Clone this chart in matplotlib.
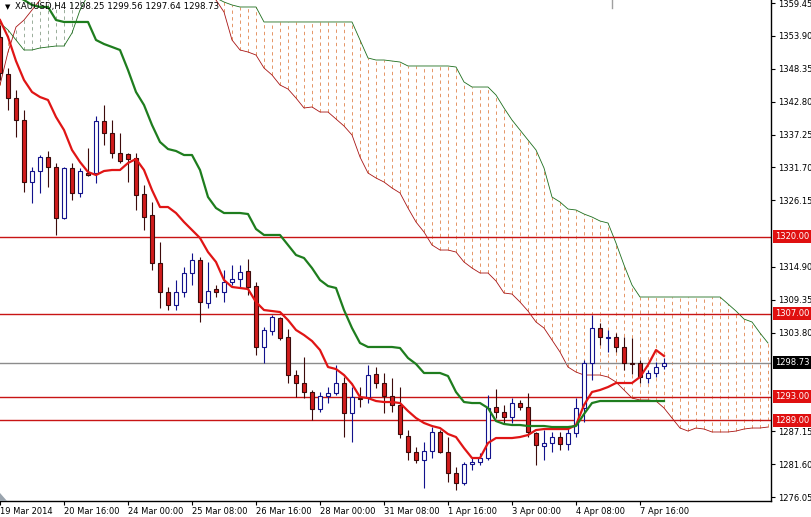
import matplotlib
matplotlib.use("Agg")
import matplotlib.pyplot as plt
import matplotlib.transforms as mtransforms
from matplotlib.patches import Rectangle, Polygon
import numpy as np

# XAUUSD H4 candles, 19 Mar 2014 08:00 onwards (one bar every 4 hours)
opens = [1353.71, 1347.47, 1343.41, 1339.70, 1329.23, 1331.09, 1333.45, 1331.77, 1323.16, 1331.60,
         1327.38, 1330.75, 1330.75, 1339.53, 1337.51, 1334.13, 1333.96, 1333.29, 1327.21, 1323.66,
         1315.56, 1310.66, 1308.47, 1310.66, 1313.87, 1316.06, 1308.81, 1311.17, 1310.66, 1312.35,
         1312.86, 1314.21, 1311.68, 1301.38, 1304.08, 1306.27, 1303.06, 1296.65, 1295.30, 1293.78,
         1290.91, 1293.11, 1293.61, 1295.30, 1290.23, 1292.76, 1292.93, 1296.82, 1295.30, 1293.11,
         1291.58, 1286.35, 1283.65, 1282.30, 1283.82, 1287.03, 1283.65, 1280.10, 1278.41, 1281.62,
         1281.96, 1282.64, 1291.25, 1290.40, 1289.56, 1291.92, 1291.25, 1286.86, 1284.66, 1285.17,
         1286.18, 1285.00, 1286.86, 1291.08, 1298.67, 1304.58, 1302.95, 1303.07, 1301.38, 1298.67,
         1298.67, 1296.14, 1296.99, 1298.25]
highs = [1355.74, 1348.48, 1344.77, 1341.39, 1331.77, 1333.79, 1334.47, 1332.44, 1331.77, 1332.44,
         1331.60, 1334.97, 1340.38, 1342.23, 1339.70, 1337.51, 1334.13, 1334.13, 1328.73, 1325.86,
         1319.10, 1311.51, 1312.69, 1314.88, 1317.25, 1316.57, 1315.73, 1311.84, 1314.38, 1315.22,
         1315.22, 1316.23, 1312.35, 1304.75, 1306.78, 1306.44, 1304.42, 1297.49, 1299.69, 1294.12,
         1293.78, 1294.62, 1298.34, 1296.31, 1294.62, 1294.62, 1298.34, 1298.00, 1296.99, 1296.14,
         1294.62, 1287.36, 1284.49, 1285.34, 1287.87, 1287.36, 1286.18, 1281.12, 1281.96, 1282.80,
         1283.48, 1293.27, 1294.28, 1291.58, 1292.76, 1292.43, 1293.61, 1287.03, 1287.36, 1287.03,
         1287.03, 1287.70, 1292.76, 1299.18, 1306.78, 1305.43, 1304.25, 1303.74, 1303.07, 1302.90,
         1299.18, 1297.49, 1298.84, 1299.56]
lows = [1346.45, 1341.39, 1336.83, 1327.54, 1325.69, 1327.38, 1328.39, 1320.29, 1323.00, 1326.19,
        1326.70, 1330.20, 1329.06, 1335.48, 1333.29, 1332.44, 1329.23, 1324.51, 1321.13, 1314.38,
        1307.96, 1307.62, 1307.62, 1309.82, 1311.84, 1305.60, 1307.96, 1309.82, 1308.97, 1311.84,
        1311.51, 1310.16, 1300.03, 1298.67, 1303.40, 1302.56, 1295.30, 1292.93, 1292.76, 1289.05,
        1290.40, 1291.92, 1293.27, 1286.18, 1285.34, 1291.24, 1291.92, 1294.45, 1290.23, 1290.40,
        1286.01, 1282.30, 1281.79, 1277.57, 1282.64, 1283.48, 1278.58, 1277.23, 1278.07, 1280.61,
        1281.45, 1282.30, 1289.39, 1288.55, 1288.55, 1290.74, 1286.18, 1281.45, 1282.30, 1283.65,
        1283.99, 1283.99, 1286.18, 1288.71, 1295.80, 1301.71, 1300.53, 1300.53, 1297.49, 1296.80,
        1295.30, 1295.30, 1296.31, 1297.64]
closes = [1347.64, 1343.41, 1339.70, 1329.23, 1331.09, 1333.45, 1331.77, 1323.16, 1331.60, 1327.38,
          1331.09, 1330.41, 1339.53, 1337.51, 1334.13, 1332.78, 1333.12, 1327.04, 1323.32, 1315.56,
          1310.66, 1308.47, 1310.66, 1313.87, 1316.06, 1308.97, 1310.83, 1310.66, 1312.35, 1312.86,
          1314.04, 1311.51, 1301.38, 1304.25, 1306.44, 1302.90, 1296.65, 1295.30, 1293.78, 1290.91,
          1293.10, 1293.61, 1295.30, 1290.23, 1292.93, 1292.59, 1296.65, 1295.30, 1293.11, 1291.58,
          1286.69, 1283.65, 1282.30, 1283.82, 1287.03, 1283.65, 1280.10, 1278.41, 1281.62, 1281.96,
          1282.64, 1291.08, 1290.40, 1289.56, 1291.92, 1291.25, 1287.03, 1284.83, 1285.17, 1286.18,
          1285.00, 1286.86, 1291.08, 1298.67, 1304.58, 1303.07, 1303.10, 1301.38, 1298.67, 1298.50,
          1296.31, 1296.99, 1298.00, 1298.73]

# Ichimoku lines
tenkan = [1356.58, 1353.71, 1349.66, 1346.45, 1344.43, 1343.58, 1343.08, 1340.21, 1338.01, 1334.64,
          1332.61, 1330.92, 1330.41, 1331.09, 1331.26, 1331.26, 1332.44, 1333.12, 1331.26, 1327.88,
          1325.01, 1325.01, 1324.00, 1322.48, 1321.13, 1319.78, 1317.41, 1315.73, 1312.69, 1311.51,
          1311.34, 1311.17, 1308.97, 1307.62, 1307.45, 1307.28, 1305.93, 1304.25, 1303.40, 1302.39,
          1300.87, 1298.00, 1297.66, 1296.65, 1295.13, 1292.93, 1292.76, 1292.26, 1292.09, 1292.09,
          1291.92, 1290.57, 1289.39, 1288.55, 1288.04, 1287.70, 1286.69, 1286.18, 1284.32, 1282.64,
          1282.64, 1285.17, 1286.01, 1286.01, 1286.01, 1286.18, 1286.52, 1287.36, 1287.53, 1287.53,
          1287.53, 1287.53, 1288.21, 1291.58, 1293.78, 1294.12, 1294.62, 1295.30, 1295.30, 1295.30,
          1296.31, 1298.34, 1300.87, 1299.86]
kijun = [1362.49, 1361.65, 1360.64, 1359.96, 1359.12, 1358.78, 1358.78, 1356.58, 1356.25, 1356.25,
         1356.25, 1356.25, 1353.21, 1352.53, 1352.03, 1351.52, 1348.14, 1344.43, 1342.23, 1338.86,
         1335.99, 1334.80, 1334.47, 1333.79, 1333.79, 1331.26, 1326.70, 1324.84, 1324.00, 1324.00,
         1324.00, 1323.83, 1321.30, 1320.29, 1320.29, 1320.29, 1318.60, 1316.91, 1316.40, 1314.71,
         1312.69, 1311.67, 1311.34, 1307.62, 1304.58, 1302.05, 1301.38, 1301.38, 1301.38, 1301.38,
         1301.21, 1299.52, 1298.51, 1296.99, 1296.99, 1296.99, 1296.48, 1293.78, 1292.09, 1291.92,
         1291.92, 1291.08, 1288.88, 1288.38, 1288.21, 1288.21, 1288.04, 1288.04, 1288.04, 1287.87,
         1287.87, 1287.87, 1288.04, 1290.06, 1291.92, 1292.26, 1292.26, 1292.26, 1292.26, 1292.26,
         1292.26, 1292.26, 1292.26, 1292.26]
span_a = ([1345.61, 1351.18, 1355.40, 1356.58, 1358.27, 1359.96] + [1361.65] * 21 +
          [1359.96, 1357.93, 1353.21, 1351.52, 1351.18, 1350.67, 1348.48, 1347.30, 1345.61, 1344.93,
           1343.41, 1341.73, 1341.90, 1341.05, 1341.05, 1339.87, 1338.69, 1337.17, 1333.45, 1330.75,
           1329.91, 1329.23, 1328.22, 1327.38, 1324.84, 1322.48, 1320.79, 1318.60, 1317.75, 1317.75,
           1317.41, 1315.73, 1314.71, 1313.87, 1313.87, 1312.52, 1310.49, 1310.32, 1308.97, 1307.45,
           1305.60, 1304.58, 1302.56, 1300.53, 1298.00, 1297.15, 1296.65, 1296.65, 1296.65, 1296.31,
           1295.47, 1294.12, 1292.76, 1292.43, 1292.43, 1292.26, 1291.08, 1289.39, 1287.70, 1287.19,
           1287.70, 1287.53, 1287.03, 1287.03, 1287.03, 1287.19, 1287.53, 1287.70, 1287.70, 1287.87])
span_b = ([1356.08, 1354.90, 1353.21, 1351.52, 1351.52, 1351.86, 1352.03, 1352.19, 1352.19, 1354.39,
           1358.27] + [1360.80] * 16 +
          [1360.30, 1359.62, 1359.12, 1358.78, 1358.78, 1358.78] + [1356.25] * 12 +
          [1353.21, 1350.17, 1349.83, 1349.83, 1349.66, 1349.49] + [1348.82] * 6 +
          [1348.65, 1346.12, 1345.27, 1345.27, 1345.27, 1343.92, 1341.73, 1339.70, 1338.01, 1336.32,
           1334.64, 1331.60, 1326.70, 1325.86, 1324.67, 1324.51, 1323.83, 1323.32, 1322.65, 1322.31,
           1318.93, 1315.22, 1311.84] + [1309.82] * 11 +
          [1308.64, 1307.45, 1306.10, 1305.60, 1303.74, 1302.05])

levels = [1320.00, 1307.00, 1293.00, 1289.00]
price_ticks = [1359.45, 1353.90, 1348.35, 1342.80, 1337.25, 1331.70, 1326.15,
               1314.90, 1309.35, 1303.80, 1287.15, 1281.60, 1276.05]
date_labels = ["19 Mar 2014", "20 Mar 16:00", "24 Mar 00:00", "25 Mar 08:00", "26 Mar 16:00",
               "28 Mar 00:00", "31 Mar 08:00", "1 Apr 16:00", "3 Apr 00:00", "4 Apr 08:00",
               "7 Apr 16:00"]

BULL_EDGE = "#12128c"
BEAR_FILL = "#d21c1c"
BEAR_EDGE = "#3c0a0a"

fig = plt.figure(figsize=(8.11, 5.17), dpi=100)
ax = fig.add_axes([0, 16 / 517, 771 / 811, 501 / 517])
ax.set_xlim(0, 771 / 8)
ax.set_ylim(1275.38, 1359.96)

# cloud: dotted vertical strokes on every bar between span A and span B
xs = np.arange(len(span_a))
a = np.array(span_a)
b = np.array(span_b)
up = a > b
ax.vlines(xs[~up], a[~up], b[~up], colors="#e0844e", linestyles=[(0, (4, 4))], lw=0.6, zorder=1)
ax.vlines(xs[up], b[up], a[up], colors="#8aa08a", linestyles=[(0, (4, 4))], lw=0.6, zorder=1)
ax.plot(xs, span_a, color="#a81414", lw=0.6, zorder=2)
ax.plot(xs, span_b, color="#1d6e1d", lw=0.6, zorder=2)

for lv in levels:
    ax.axhline(lv, color="#c81414", lw=1, zorder=2)
ax.axhline(closes[-1], color="#8c8c8c", lw=1, zorder=2)

# candles
w = 0.62
for i, (o, h, l, c) in enumerate(zip(opens, highs, lows, closes)):
    bull = c >= o
    ec = BULL_EDGE if bull else BEAR_EDGE
    ax.vlines(i, l, h, color=ec, lw=0.8, zorder=3)
    lo, hi = min(o, c), max(o, c)
    ax.add_patch(Rectangle((i - w / 2, lo), w, max(hi - lo, 0.12),
                           facecolor="white" if bull else BEAR_FILL,
                           edgecolor=ec, lw=0.8, zorder=4))

ax.plot(np.arange(len(tenkan)), tenkan, color="#e01515", lw=1.6, zorder=5)
ax.plot(np.arange(len(kijun)), kijun, color="#1e7d1e", lw=1.6, zorder=5)

# axes look
for s in ["top", "left"]:
    ax.spines[s].set_visible(False)
for s in ["right", "bottom"]:
    ax.spines[s].set_color("black")
    ax.spines[s].set_linewidth(1)
ax.yaxis.tick_right()
ax.set_yticks(price_ticks)
ax.set_yticklabels([f"{p:.2f}" for p in price_ticks])
ax.tick_params(axis="y", length=3, pad=2, labelsize=6, colors="black")
ax.set_xticks(np.arange(len(date_labels)) * 8)
ax.set_xticklabels(date_labels)
ax.tick_params(axis="x", length=3, pad=1.5, labelsize=6)
for lab in ax.get_xticklabels():
    lab.set_ha("left")

trans = mtransforms.offset_copy(
    mtransforms.blended_transform_factory(ax.transAxes, ax.transData), fig=fig, x=4, y=0, units="dots")
for lv in levels:
    ax.text(1.0, lv, f"{lv:.2f}", transform=trans, fontsize=6, color="white", ha="left", va="center",
            bbox=dict(boxstyle="square,pad=0.25", fc="#e01010", ec="none"), clip_on=False, zorder=10)
ax.text(1.0, closes[-1], f"{closes[-1]:.2f}", transform=trans, fontsize=6, color="white",
        ha="left", va="center", bbox=dict(boxstyle="square,pad=0.25", fc="black", ec="none"),
        clip_on=False, zorder=10)

# small grey chart markers (shift marker at top, scroll marker bottom-left)
fig.patches.append(Polygon([[0, 16 / 517], [7 / 811, 16 / 517], [0, 24 / 517]], closed=True,
                           transform=fig.transFigure, fc="#9aa4ae", ec="none"))
fig.add_artist(plt.Line2D([612 / 811, 612 / 811], [1, 1 - 8 / 517], color="#a0a0a0", lw=1))

fig.text(5 / 811, 1 - 7 / 517, "\u25bc", fontsize=5, va="center", ha="left")
fig.text(15 / 811, 1 - 7 / 517,
         f"XAUUSD,H4 {opens[-1]:.2f} {highs[-1]:.2f} {lows[-1]:.2f} {closes[-1]:.2f}",
         fontsize=6.2, va="center", ha="left", zorder=20)

fig.savefig("out.png", dpi=100)
